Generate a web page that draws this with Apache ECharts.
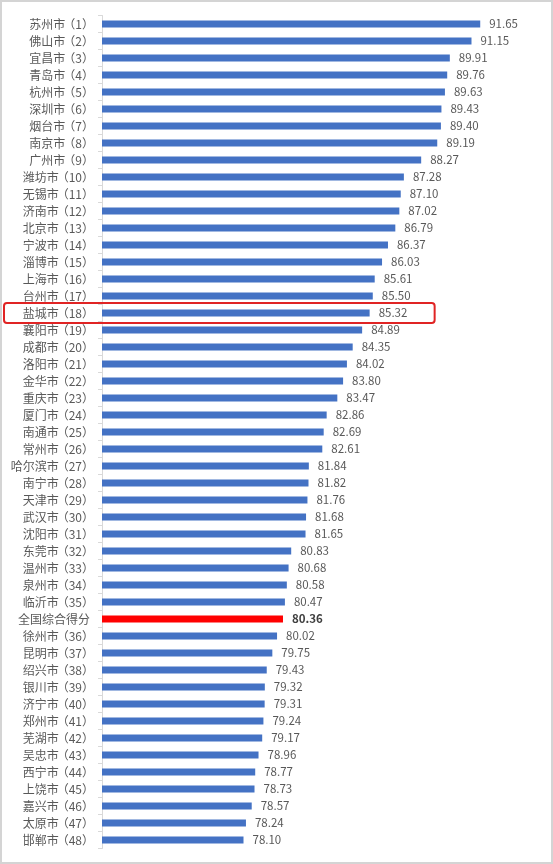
<!DOCTYPE html>
<html>
<head>
<meta charset="utf-8">
<script src="https://cdn.jsdelivr.net/npm/echarts@6/dist/echarts.min.js"></script>
<style>
html,body{margin:0;padding:0;background:#fff;}
#wrap{width:553px;height:864px;box-sizing:border-box;border:2px solid #d4d4d4;position:relative;}
#chart{position:absolute;left:-2px;top:-2px;width:553px;height:864px;}
</style>
</head>
<body>
<div id="wrap"><div id="chart"></div></div>
<script>
const categories = ["苏州市（1）","佛山市（2）","宜昌市（3）","青岛市（4）","杭州市（5）","深圳市（6）","烟台市（7）","南京市（8）","广州市（9）","潍坊市（10）","无锡市（11）","济南市（12）","北京市（13）","宁波市（14）","淄博市（15）","上海市（16）","台州市（17）","盐城市（18）","襄阳市（19）","成都市（20）","洛阳市（21）","金华市（22）","重庆市（23）","厦门市（24）","南通市（25）","常州市（26）","哈尔滨市（27）","南宁市（28）","天津市（29）","武汉市（30）","沈阳市（31）","东莞市（32）","温州市（33）","泉州市（34）","临沂市（35）","全国综合得分","徐州市（36）","昆明市（37）","绍兴市（38）","银川市（39）","济宁市（40）","郑州市（41）","芜湖市（42）","吴忠市（43）","西宁市（44）","上饶市（45）","嘉兴市（46）","太原市（47）","邯郸市（48）"];
const scores = [91.65,91.15,89.91,89.76,89.63,89.43,89.40,89.19,88.27,87.28,87.10,87.02,86.79,86.37,86.03,85.61,85.50,85.32,84.89,84.35,84.02,83.80,83.47,82.86,82.69,82.61,81.84,81.82,81.76,81.68,81.65,80.83,80.68,80.58,80.47,80.36,80.02,79.75,79.43,79.32,79.31,79.24,79.17,78.96,78.77,78.73,78.57,78.24,78.10];
const nationalLabel = "全国综合得分";
const highlightLabel = "盐城市（18）";

const FS = 12;
const FONT = 'Noto Sans CJK SC';
const COL = '#595959';
const base = { fontSize: FS, fontFamily: FONT, color: COL, align: 'left' };
const rich = {
  t: Object.assign({}, base),
  n3: Object.assign({}, base, { width: 3 * FS - 2 }),
  n4: Object.assign({}, base, { width: 4 * FS - 2 }),
  c: Object.assign({}, base, { width: 8 })
};
function fmtLabel(val) {
  const m = val.match(/^(.*)（(\d+)）$/);
  if (!m) return '{t|' + val + '}';
  const nm = m[1].length === 4 ? 'n4' : 'n3';
  return '{' + nm + '|' + m[1] + '}{t|（}{t|' + m[2] + '}{c|）}';
}

const chart = echarts.init(document.getElementById('chart'));
const data = scores.map((v, i) => {
  const isNat = categories[i] === nationalLabel;
  return {
    value: v,
    itemStyle: { color: isNat ? '#FF0000' : '#4472C4' },
    label: isNat ? { fontWeight: 'bold', color: '#404040' } : undefined
  };
});
chart.setOption({
  animation: false,
  grid: { left: 102, right: 14.25, top: 15.5, bottom: 15.5, containLabel: false, outerBoundsMode: 'none' },
  xAxis: { type: 'value', min: 70, max: 95, show: false },
  yAxis: {
    type: 'category', data: categories, inverse: true,
    axisLine: { show: true, lineStyle: { color: '#d9d9d9' } },
    axisTick: { show: true, length: 4, lineStyle: { color: '#d9d9d9' } },
    axisLabel: { color: COL, fontSize: FS, margin: 12, fontFamily: FONT, formatter: fmtLabel, rich: rich }
  },
  series: [{
    type: 'bar', data: data, barWidth: 7,
    label: { show: true, position: 'right', distance: 9, color: COL, fontSize: 11.5, fontFamily: FONT, formatter: p => p.value.toFixed(2) }
  }]
});
const cy = chart.convertToPixel({ yAxisIndex: 0 }, highlightLabel);
const hv = scores[categories.indexOf(highlightLabel)];
const xEnd = chart.convertToPixel({ xAxisIndex: 0 }, hv);
chart.setOption({
  graphic: [{
    type: 'rect', z: 100,
    shape: { x: 4, y: cy - 10, width: xEnd + 65 - 4, height: 20, r: 3 },
    style: { fill: 'none', stroke: '#E02424', lineWidth: 2 }
  }]
});
</script>
</body>
</html>
